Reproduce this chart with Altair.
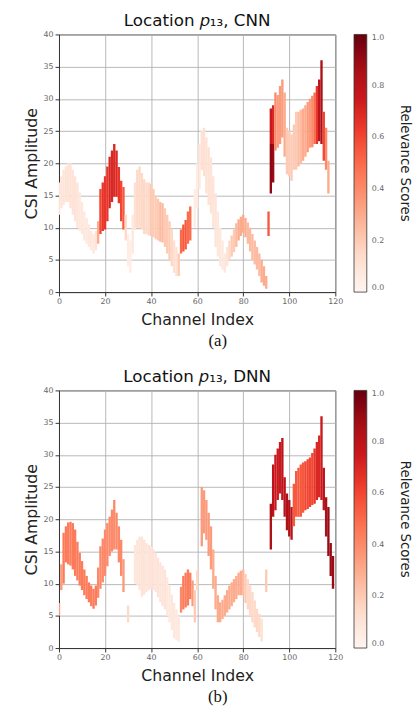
import altair as alt
import pandas as pd

# ---------------- data ----------------
cnn_channel = [0, 1, 2, 3, 4, 5, 6, 7, 8, 9, 10, 11, 12, 13, 14, 15, 16, 17, 18, 19,
               20, 21, 22, 23, 24, 25, 26, 27, 28, 29, 30, 31, 32, 33, 34, 35, 36, 37, 38, 39,
               40, 41, 42, 43, 44, 45, 46, 47, 48, 49, 50, 51, 52, 53, 54, 55, 56, 57, 59, 60,
               61, 62, 63, 64, 65, 66, 67, 68, 69, 70, 71, 72, 73, 74, 75, 76, 77, 78, 79, 80,
               81, 82, 83, 84, 85, 86, 87, 88, 89, 90, 91, 92, 92, 93, 93, 94, 95, 96, 97, 98,
               99, 100, 101, 102, 103, 104, 105, 106, 107, 108, 109, 110, 111, 112, 113, 114, 115, 116, 117]
cnn_low = [12, 13, 13.5, 14, 14, 13, 12, 11, 10, 9.5, 9, 8, 7.5, 7, 6.5, 6, 6.5, 7.5, 9, 9.5,
           9.7, 11, 13, 14, 14.8, 14.8, 13.8, 11, 9.7, 8, 4, 3, 6, 9.7, 10, 10, 9.7, 9, 9, 8.8,
           8.7, 8.5, 8.2, 8, 7.8, 7.7, 7, 6, 5, 4, 3, 2.5, 2.5, 6, 6.3, 6.6, 7.5, 8, 10, 13,
           16, 18.9, 18, 15.3, 13.5, 12.2, 10, 7, 5.5, 4, 3.5, 3, 4, 5, 5.5, 6.2, 7, 8, 8.7, 9.2,
           8.5, 7.5, 6.3, 5, 4.3, 3.5, 2.5, 1.5, 1, 0.5, 8.7, 15.3, 23, 17, 23, 22, 22.4, 23, 24, 21,
           18.3, 18, 17.3, 19, 19, 19.5, 20, 20.4, 21, 21.7, 22.4, 22.5, 23, 23, 23.4, 23, 20.4, 19, 15.3]
cnn_high = [17, 18, 19, 19.5, 20, 20, 19, 18, 17, 15.5, 14, 12.5, 11.5, 10.5, 9.5, 9, 9.5, 11, 16, 17,
            18, 19.5, 21, 22, 23, 22, 19.4, 17.3, 16.3, 12, 9, 8, 12, 17, 19, 19.5, 18.5, 17.5, 17, 17,
            16.8, 16, 15, 14.5, 14, 13.8, 13, 12, 11, 9.7, 8, 7, 6, 9.7, 10.5, 11.2, 12.5, 13.3, 16, 20,
            23, 25, 25.5, 24, 22.5, 20.9, 18, 15.3, 12.5, 10, 8, 6, 7, 8, 8.8, 9.7, 10.7, 11.3, 11.7, 12,
            11.5, 10.8, 10, 9, 8, 7, 6, 5, 4, 2.5, 12.5, 23, 28.5, 23, 29, 31, 30.6, 32, 33, 31,
            25.5, 25, 24.5, 26, 28, 28, 28.3, 28.5, 29, 29.5, 30, 30.5, 31, 32, 33, 36, 28, 25.5, 20.4]
cnn_score = [0.1, 0.1, 0.1, 0.1, 0.1, 0.12, 0.1, 0.1, 0.1, 0.08, 0.08, 0.08, 0.08, 0.08, 0.08, 0.08, 0.1, 0.3, 0.6, 0.65,
             0.65, 0.65, 0.7, 0.7, 0.7, 0.7, 0.65, 0.6, 0.55, 0.15, 0.05, 0.05, 0.08, 0.12, 0.15, 0.15, 0.15, 0.15, 0.15, 0.15,
             0.2, 0.2, 0.2, 0.2, 0.25, 0.25, 0.2, 0.2, 0.2, 0.15, 0.12, 0.12, 0.2, 0.5, 0.55, 0.55, 0.5, 0.5, 0.05, 0.06,
             0.08, 0.12, 0.12, 0.12, 0.12, 0.1, 0.1, 0.1, 0.08, 0.08, 0.08, 0.08, 0.1, 0.15, 0.2, 0.2, 0.25, 0.3, 0.3, 0.3,
             0.3, 0.25, 0.25, 0.25, 0.25, 0.25, 0.25, 0.3, 0.3, 0.3, 0.55, 0.92, 0.75, 0.9, 0.7, 0.4, 0.35, 0.35, 0.35, 0.3,
             0.2, 0.2, 0.2, 0.2, 0.2, 0.25, 0.25, 0.3, 0.3, 0.35, 0.35, 0.4, 0.5, 0.65, 0.8, 0.85, 0.6, 0.4, 0.3]

dnn_channel = [0, 1, 2, 3, 4, 5, 6, 7, 8, 9, 10, 11, 12, 13, 14, 15, 16, 17, 18, 19,
               20, 21, 22, 23, 24, 25, 26, 27, 28, 30, 33, 34, 35, 36, 37, 38, 39, 40, 41, 42,
               43, 44, 45, 46, 47, 48, 49, 50, 51, 52, 53, 54, 55, 56, 57, 58, 59, 60, 62, 63,
               64, 65, 66, 67, 68, 69, 70, 71, 72, 73, 74, 75, 76, 77, 78, 79, 80, 81, 82, 83,
               84, 85, 86, 87, 88, 90, 92, 93, 94, 95, 96, 97, 98, 99, 100, 101, 102, 103, 104, 105,
               106, 107, 108, 109, 110, 111, 112, 113, 114, 115, 116, 117, 118, 119]
dnn_low = [5, 9, 10, 13.3, 13, 12.8, 12.2, 11.2, 10.5, 9.7, 9, 8.2, 7.6, 7.1, 6.5, 6.1, 6.6, 7.8, 9.2, 10.2,
           11.2, 12.7, 14.3, 15, 15.3, 15.3, 13.3, 11.2, 8.7, 4, 10, 9.7, 9, 8, 8.3, 8.7, 9, 9.2, 9, 8.7,
           7.9, 7.1, 6.5, 6, 5, 4, 2.8, 1.5, 1.2, 1, 5.5, 6, 6.3, 6.6, 7.6, 6.5, 4, 9, 15.8, 17.8,
           16.8, 14.3, 12.2, 9.2, 6, 4, 4, 4.5, 5, 5.5, 6, 6.5, 7.1, 7.6, 8.2, 8.2, 8.2, 7, 6, 5,
           4, 3.2, 2.5, 1.7, 1, 8.7, 15.3, 20.4, 21.4, 23, 24, 23, 20.4, 18.3, 17.3, 16.8, 18.9, 20.4, 20.4, 20.4,
           21, 21.4, 21.6, 21.9, 22.2, 22.4, 23, 23.4, 23, 21.4, 17.3, 14.3, 11.2, 9.2]
dnn_high = [7, 13, 17.9, 18.9, 19.5, 19.6, 19.4, 18.4, 16.5, 14.8, 13.5, 12.2, 11.2, 10.2, 9.7, 9.2, 9.7, 12.5, 15.8, 17,
            18.4, 19.4, 20.4, 21.5, 23, 21, 18.9, 16.8, 13.8, 6.6, 16, 16.8, 17.3, 17.3, 16.8, 16.3, 16, 15.8, 15.3, 14.8,
            14, 13.3, 12.8, 12.2, 11, 9.7, 8.3, 7, 6, 5, 9.5, 11.2, 11.7, 12.2, 11.7, 10.5, 9, 12, 25, 24.5,
            23, 21, 18.9, 15.3, 11.2, 8.2, 7.1, 7.5, 8.2, 9, 9.7, 10.2, 10.7, 11.2, 11.7, 12, 12.2, 11.5, 10.7, 9.7,
            8.7, 7.4, 6.1, 5.3, 4.6, 12.2, 22.4, 28.5, 30, 31, 32, 32.6, 26.5, 24, 23, 21.9, 25.5, 27.5, 28, 28.5,
            28.8, 29, 29.3, 29.6, 30.3, 31, 32, 33, 36, 28, 23.4, 21.9, 16.3, 14.3]
dnn_score = [0.35, 0.35, 0.45, 0.45, 0.45, 0.45, 0.45, 0.45, 0.45, 0.45, 0.45, 0.45, 0.45, 0.45, 0.45, 0.45, 0.45, 0.4, 0.4, 0.4,
             0.4, 0.4, 0.4, 0.4, 0.4, 0.4, 0.4, 0.4, 0.35, 0.15, 0.08, 0.1, 0.1, 0.1, 0.1, 0.1, 0.1, 0.1, 0.1, 0.1,
             0.1, 0.1, 0.1, 0.1, 0.08, 0.08, 0.08, 0.08, 0.08, 0.08, 0.4, 0.45, 0.45, 0.45, 0.45, 0.35, 0.2, 0.15, 0.35, 0.35,
             0.35, 0.35, 0.35, 0.3, 0.3, 0.3, 0.3, 0.3, 0.3, 0.3, 0.3, 0.3, 0.3, 0.3, 0.3, 0.3, 0.25, 0.2, 0.15, 0.15,
             0.15, 0.15, 0.15, 0.15, 0.12, 0.2, 0.85, 0.8, 0.75, 0.75, 0.75, 0.8, 0.8, 0.85, 0.85, 0.8, 0.55, 0.55, 0.55, 0.55,
             0.55, 0.6, 0.6, 0.6, 0.6, 0.65, 0.7, 0.7, 0.75, 0.8, 0.85, 0.9, 0.9, 0.9]

x_ticks = [0, 20, 40, 60, 80, 100, 120]
y_ticks = [0, 5, 10, 15, 20, 25, 30, 35, 40]
score_ticks = [0.0, 0.2, 0.4, 0.6, 0.8, 1.0]
# matplotlib "Reds" colormap stops
reds_domain = [0, 0.125, 0.25, 0.375, 0.5, 0.625, 0.75, 0.875, 1.0]
reds_range = ["#fff5f0", "#fee0d2", "#fcbba1", "#fc9272", "#fb6a4a",
              "#ef3b2c", "#cb181d", "#a50f15", "#67000d"]

cnn_df = pd.DataFrame({"channel": cnn_channel, "low": cnn_low, "high": cnn_high, "score": cnn_score})
dnn_df = pd.DataFrame({"channel": dnn_channel, "low": dnn_low, "high": dnn_high, "score": dnn_score})

SANS = "DejaVu Sans"


def panel(df, title):
    return alt.Chart(df).mark_rule(strokeWidth=2.4, clip=True).encode(
        x=alt.X("channel:Q",
                scale=alt.Scale(domain=[0, 120], nice=False, zero=False),
                axis=alt.Axis(values=x_ticks, title="Channel Index", format="d",
                              labelFlush=False, titlePadding=6)),
        y=alt.Y("low:Q",
                scale=alt.Scale(domain=[0, 40], nice=False),
                axis=alt.Axis(values=y_ticks, title="CSI Amplitude", format="d",
                              labelFlush=False)),
        y2="high:Q",
        color=alt.Color("score:Q",
                        scale=alt.Scale(domain=reds_domain, range=reds_range),
                        legend=alt.Legend(title="Relevance Scores", titleOrient="right",
                                          orient="right", offset=19, direction="vertical",
                                          gradientLength=262, gradientThickness=13,
                                          values=score_ticks, format=".1f",
                                          labelFontSize=8, labelColor="#666", labelFont=SANS,
                                          labelOffset=5, labelBaseline="middle",
                                          titleFontSize=13.5, titleFont=SANS, titleFontWeight="normal",
                                          titleColor="#222", titleAnchor="middle", titlePadding=14,
                                          gradientStrokeColor="#333", gradientStrokeWidth=0.8,
                                          padding=0)),
    ).properties(
        width=281, height=262,
        title=alt.Title(title, frame="group", fontSize=17, font=SANS, fontWeight="normal",
                        color="#111", offset=1),
    )


def captioned(chart, caption):
    return alt.vconcat(chart, title=alt.Title(caption, orient="bottom", anchor="middle",
                                              font="Liberation Serif",
                                              fontSize=17, fontWeight="normal", color="#111",
                                              offset=5)).resolve_scale(color="independent")


chart = alt.vconcat(
    captioned(panel(cnn_df, "Location 𝑝₁₃, CNN"), "(a)"),
    captioned(panel(dnn_df, "Location 𝑝₁₃, DNN"), "(b)"),
    spacing=18,
).resolve_scale(color="independent").properties(
    padding={"left": 23, "top": 5, "right": 0, "bottom": 0},
).configure_axis(
    labelFontSize=8, labelColor="#666", labelFont=SANS,
    titleFontSize=16, titleFont=SANS, titleFontWeight="normal", titleColor="#222",
    tickColor="#333", tickSize=4, domainColor="#333",
    gridColor="#b0b0b0", gridWidth=0.9,
).configure_view(stroke="#444", strokeWidth=1)

chart.save("out.html", embed_options={"renderer": "svg", "actions": False})
